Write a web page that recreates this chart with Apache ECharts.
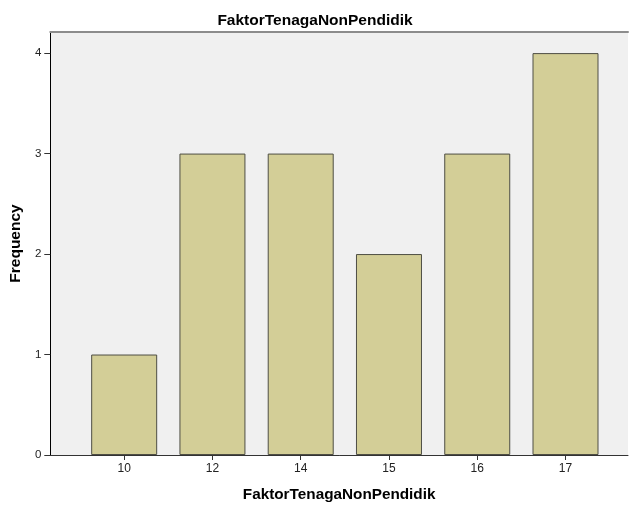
<!DOCTYPE html>
<html>
<head>
<meta charset="utf-8">
<script src="https://cdn.jsdelivr.net/npm/echarts@6/dist/echarts.min.js"></script>
<style>
  html, body { margin: 0; padding: 0; background: #fff; }
  #main { width: 630px; height: 507px; }
</style>
</head>
<body>
<div id="main"></div>
<script>
// bar labels along x and their frequencies
var categories = ['10', '12', '14', '15', '16', '17'];
var frequency = [1, 3, 3, 2, 3, 4];
var yTicks = [0, 1, 2, 3, 4];

var positions = categories.map(function (c, i) { return i; });
var barData = frequency.map(function (v, i) { return [i, v]; });

var font = 'Liberation Sans, Arial, sans-serif';
var chart = echarts.init(document.getElementById('main'));
chart.setOption({
    animation: false,
    title: {
        text: 'FaktorTenagaNonPendidik',
        left: 'center',
        top: 8,
        textStyle: { fontFamily: font, fontSize: 15.5, fontWeight: 'bold', color: '#000' }
    },
    grid: {
        left: 49,
        right: 2,
        top: 32,
        bottom: 49,
        show: true,
        backgroundColor: '#f0f0f0',
        borderColor: '#f0f0f0',
        borderWidth: 0
    },
    xAxis: [{
        type: 'value',
        min: -0.837,
        max: 5.708,
        name: 'FaktorTenagaNonPendidik',
        nameLocation: 'middle',
        nameGap: 32,
        nameTextStyle: { fontFamily: font, fontSize: 15.3, fontWeight: 'bold', color: '#000' },
        splitLine: { show: false },
        axisLine: { show: true, onZero: false, lineStyle: { color: '#333', width: 1 } },
        axisTick: { show: true, length: 5, customValues: positions, lineStyle: { color: '#333' } },
        axisLabel: {
            customValues: positions,
            margin: 8,
            fontFamily: font,
            fontSize: 12,
            color: '#222',
            formatter: function (v) { return categories[Math.round(v)]; }
        }
    }, {
        // top frame line of the plot
        type: 'value',
        position: 'top',
        min: -0.837,
        max: 5.708,
        splitLine: { show: false },
        axisLine: { show: true, onZero: false, lineStyle: { color: '#8c8c8c', width: 2 } },
        axisTick: { show: false },
        axisLabel: { show: false }
    }],
    yAxis: {
        type: 'value',
        min: 0,
        max: 4.21,
        name: 'Frequency',
        nameLocation: 'middle',
        nameGap: 23,
        nameTextStyle: { fontFamily: font, fontSize: 15.5, fontWeight: 'bold', color: '#000' },
        splitLine: { show: false },
        axisLine: { show: true, onZero: false, lineStyle: { color: '#000', width: 1 } },
        axisTick: { show: true, length: 6, customValues: yTicks, lineStyle: { color: '#333' } },
        axisLabel: {
            customValues: yTicks,
            margin: 9,
            fontFamily: font,
            fontSize: 11.5,
            color: '#222'
        }
    },
    series: [{
        type: 'bar',
        data: barData,
        barWidth: 66,
        itemStyle: {
            color: '#d3ce97',
            borderColor: '#4e4e44',
            borderWidth: 1
        }
    }]
});
</script>
</body>
</html>
